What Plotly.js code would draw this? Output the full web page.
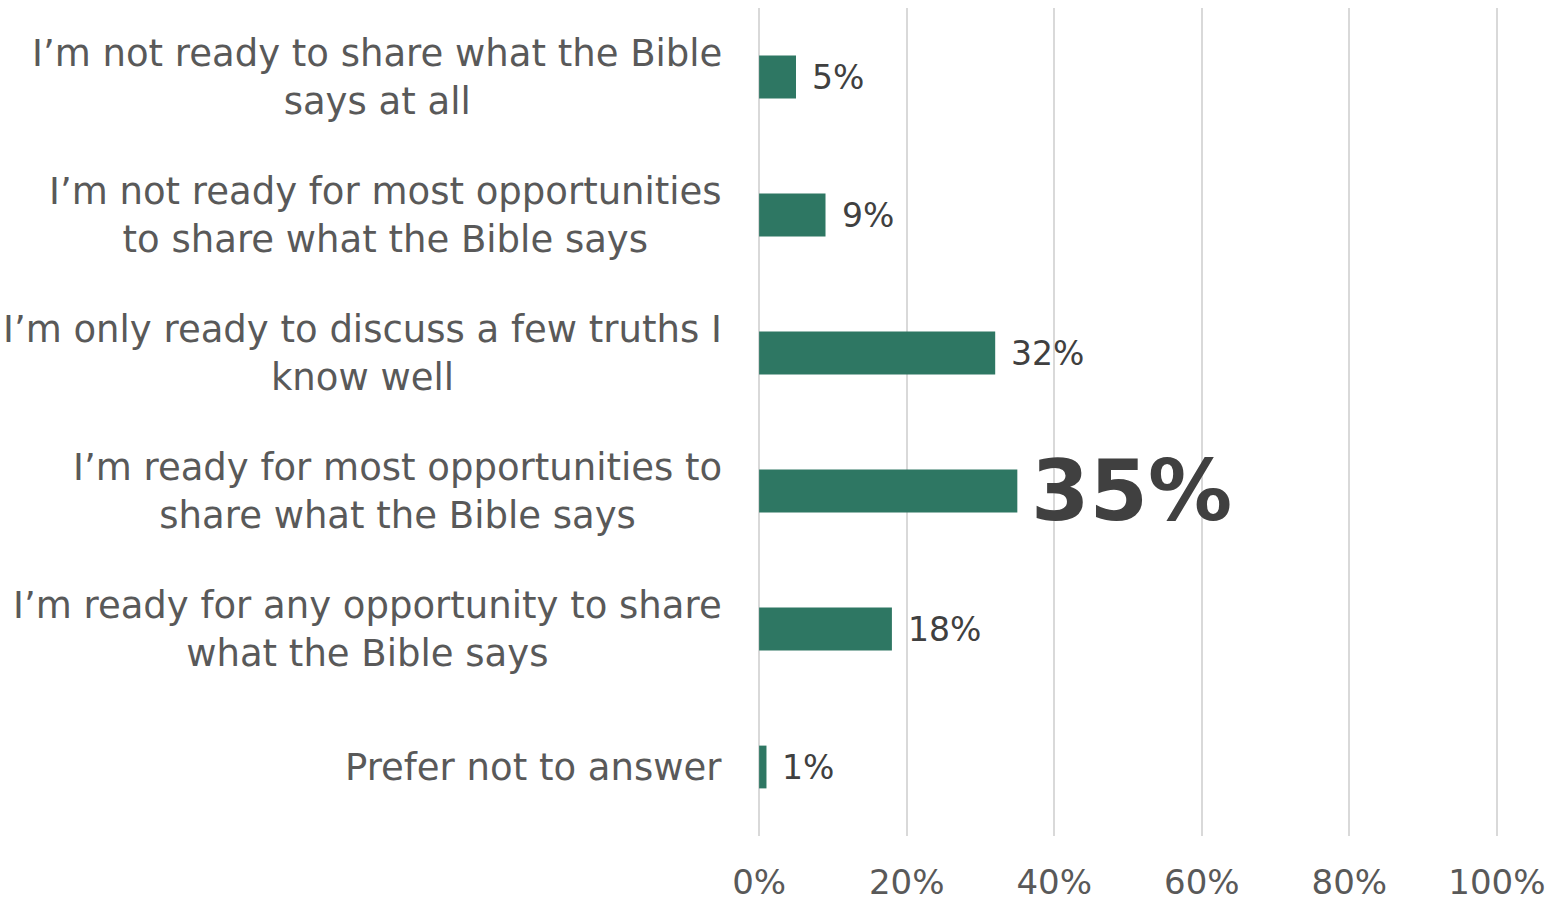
<!DOCTYPE html>
<html>
<head>
<meta charset="utf-8">
<script src="https://cdn.plot.ly/plotly-3.0.1.min.js"></script>
<style>html,body{margin:0;padding:0;background:#fff;}#chart{width:1557px;height:902px;}</style>
</head>
<body>
<div id="chart"></div>
<script>
const categories = [
  "I’m not ready to share what the Bible<br>says at all",
  "I’m not ready for most opportunities<br>to share what the Bible says",
  "I’m only ready to discuss a few truths I<br>know well",
  "I’m ready for most opportunities to<br>share what the Bible says",
  "I’m ready for any opportunity to share<br>what the Bible says",
  "Prefer not to answer"
];
const values = [5, 9, 32, 35, 18, 1];
const highlight = [false, false, false, true, false, false];
const xTickVals = [0, 20, 40, 60, 80, 100];
const xTickText = ["0%", "20%", "40%", "60%", "80%", "100%"];

const FONT = "DejaVu Sans";
const ids = categories.map((c, i) => "c" + i);

const trace = {
  type: "bar",
  orientation: "h",
  x: values,
  y: ids,
  marker: {color: "#2E7763"},
  hoverinfo: "none"
};

const annotations = [];
categories.forEach((c, i) => {
  annotations.push({
    xref: "paper", x: 0, xanchor: "right", xshift: -34,
    yref: "y", y: ids[i], yanchor: "middle",
    text: c, showarrow: false, align: "center",
    font: {family: FONT, size: 37, color: "#595959"}
  });
  annotations.push({
    xref: "x", x: values[i], xanchor: "left", xshift: highlight[i] ? 12 : 14,
    yref: "y", y: ids[i], yanchor: "middle",
    text: values[i] + "%", showarrow: false,
    font: highlight[i] ? {family: FONT, size: 84, color: "#404040", weight: 800}
                       : {family: FONT, size: 33, color: "#404040"}
  });
});

const layout = {
  width: 1557, height: 902,
  margin: {l: 758, r: 59, t: 8, b: 66},
  paper_bgcolor: "#fff", plot_bgcolor: "#fff",
  showlegend: false,
  bargap: 0.69,
  xaxis: {
    range: [-0.15, 100.15], tickvals: xTickVals, ticktext: xTickText,
    showgrid: true, gridcolor: "#D9D9D9", gridwidth: 2,
    zeroline: false, showline: false,
    ticks: "outside", ticklen: 16, tickcolor: "rgba(0,0,0,0)",
    tickfont: {family: FONT, size: 34, color: "#595959"},
    fixedrange: true
  },
  yaxis: {
    autorange: "reversed", showticklabels: false, showgrid: false,
    zeroline: false, showline: false, fixedrange: true
  },
  annotations: annotations
};

Plotly.newPlot("chart", [trace], layout, {displayModeBar: false, staticPlot: true});
</script>
</body>
</html>
